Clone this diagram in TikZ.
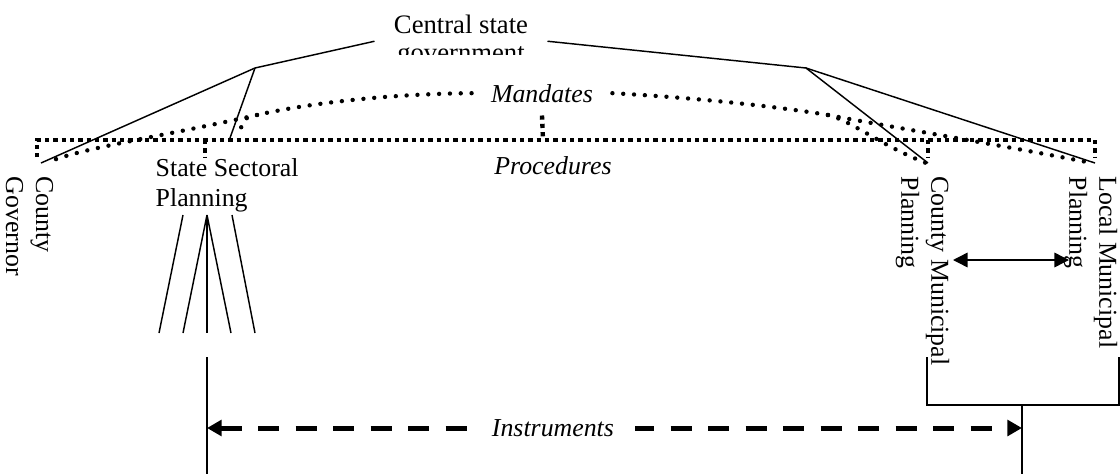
\documentclass[tikz,border=0pt]{standalone}
\usepackage{fontspec}
\setmainfont{Liberation Serif}
\usetikzlibrary{arrows.meta}
\begin{document}
\begin{tikzpicture}[x=0.48pt,y=-0.48pt,line width=0.7pt,
  every node/.style={font=\fontsize{12.4}{14.4}\selectfont,inner sep=0pt},
  mandline/.style={line width=2.1pt,line cap=round,dash pattern=on 0pt off 5.2pt},
  procline/.style={line width=2.1pt,dash pattern=on 2pt off 2pt},
  instrline/.style={line width=2.4pt,dash pattern=on 10pt off 8pt,{Triangle[length=7pt,width=7.5pt]}-{Triangle[length=7pt,width=7.5pt]}},
  vlabel/.style={rotate=-90,anchor=north west,align=left}]
\useasboundingbox (0,0) rectangle (1120,474);
\begin{scope}
\clip (360,0) rectangle (560,54);
\node[align=center,anchor=north,inner xsep=9pt,font=\fontsize{12.8}{13.8}\selectfont] (central) at (461,14) {Central state\\government};
\end{scope}
\node[font=\fontsize{12.4}{14.4}\selectfont\itshape,anchor=base,inner xsep=9pt,inner ysep=6pt] (mandates) at (542,102) {Mandates};
\node[font=\fontsize{12.4}{14.4}\selectfont\itshape,anchor=base] (procedures) at (553,174) {Procedures};
\node[anchor=north west,align=left] (ssp) at (155,158) {State Sectoral\\Planning};
\node[vlabel] (cgov) at (54,176) {County\\Governor};
\node[vlabel] (cmp) at (950,176) {County Municipal\\Planning};
\node[vlabel] (lmp) at (1118,176) {Local Municipal\\Planning};
\coordinate (jl) at (255,68);
\coordinate (jr) at (806,68);
\coordinate (gov) at (41,163);
\coordinate (ss) at (230,138);
\coordinate (cm) at (928,163);
\coordinate (lm) at (1095,163);
\draw (central.west) -- (jl) -- (gov);
\draw (jl) -- (ss);
\draw (central.east) -- (jr) -- (cm);
\draw (jr) -- (lm);
\coordinate (ml) at (257,115);
\coordinate (mr) at (828,115);
\draw[mandline] (mandates.west) .. controls (380,94) and (300,105) .. (ml);
\draw[mandline] (ml) .. controls (160,137) and (80,148) .. (46,163);
\draw[mandline] (ml) .. controls (245,117) .. (239,133);
\draw[mandline] (mandates.east) .. controls (700,98) and (780,107) .. (mr);
\draw[mandline] (mr) .. controls (850,120) and (880,145) .. (926,163);
\draw[mandline] (mr) .. controls (880,125) and (1000,145) .. (1092,163);
\draw[procline] (37,157) -- (37,140) -- (1095,140) -- (1095,157);
\draw[procline] (205,140) -- (205,157);
\draw[procline] (928,140) -- (928,157);
\draw[procline] (mandates.south) -- (543,140);
\coordinate (fa) at (183,215);
\coordinate (fb) at (207,215);
\coordinate (fc) at (232,215);
\draw (fa) -- (159,333);
\draw (fb) -- (183,333);
\draw (fb) -- (207,333);
\draw (fb) -- (231,333);
\draw (fc) -- (255,333);
\coordinate (il) at (207,357);
\coordinate (ir) at (1022,405);
\draw (il) -- (207,474);
\draw (927,357) -- (927,405) -- (1119,405) -- (1119,357);
\draw (ir) -- (1022,474);
\draw[instrline] (207,428) -- node[pos=0.4245,fill=white,inner xsep=10pt,inner ysep=3pt,font=\fontsize{12.4}{14.4}\selectfont\itshape] (instruments) {Instruments} (1022,428);
\draw[{Triangle[length=7pt,width=7pt]}-{Triangle[length=7pt,width=7pt]}] (953,260) -- (1069,260);
\end{tikzpicture}
\end{document}
